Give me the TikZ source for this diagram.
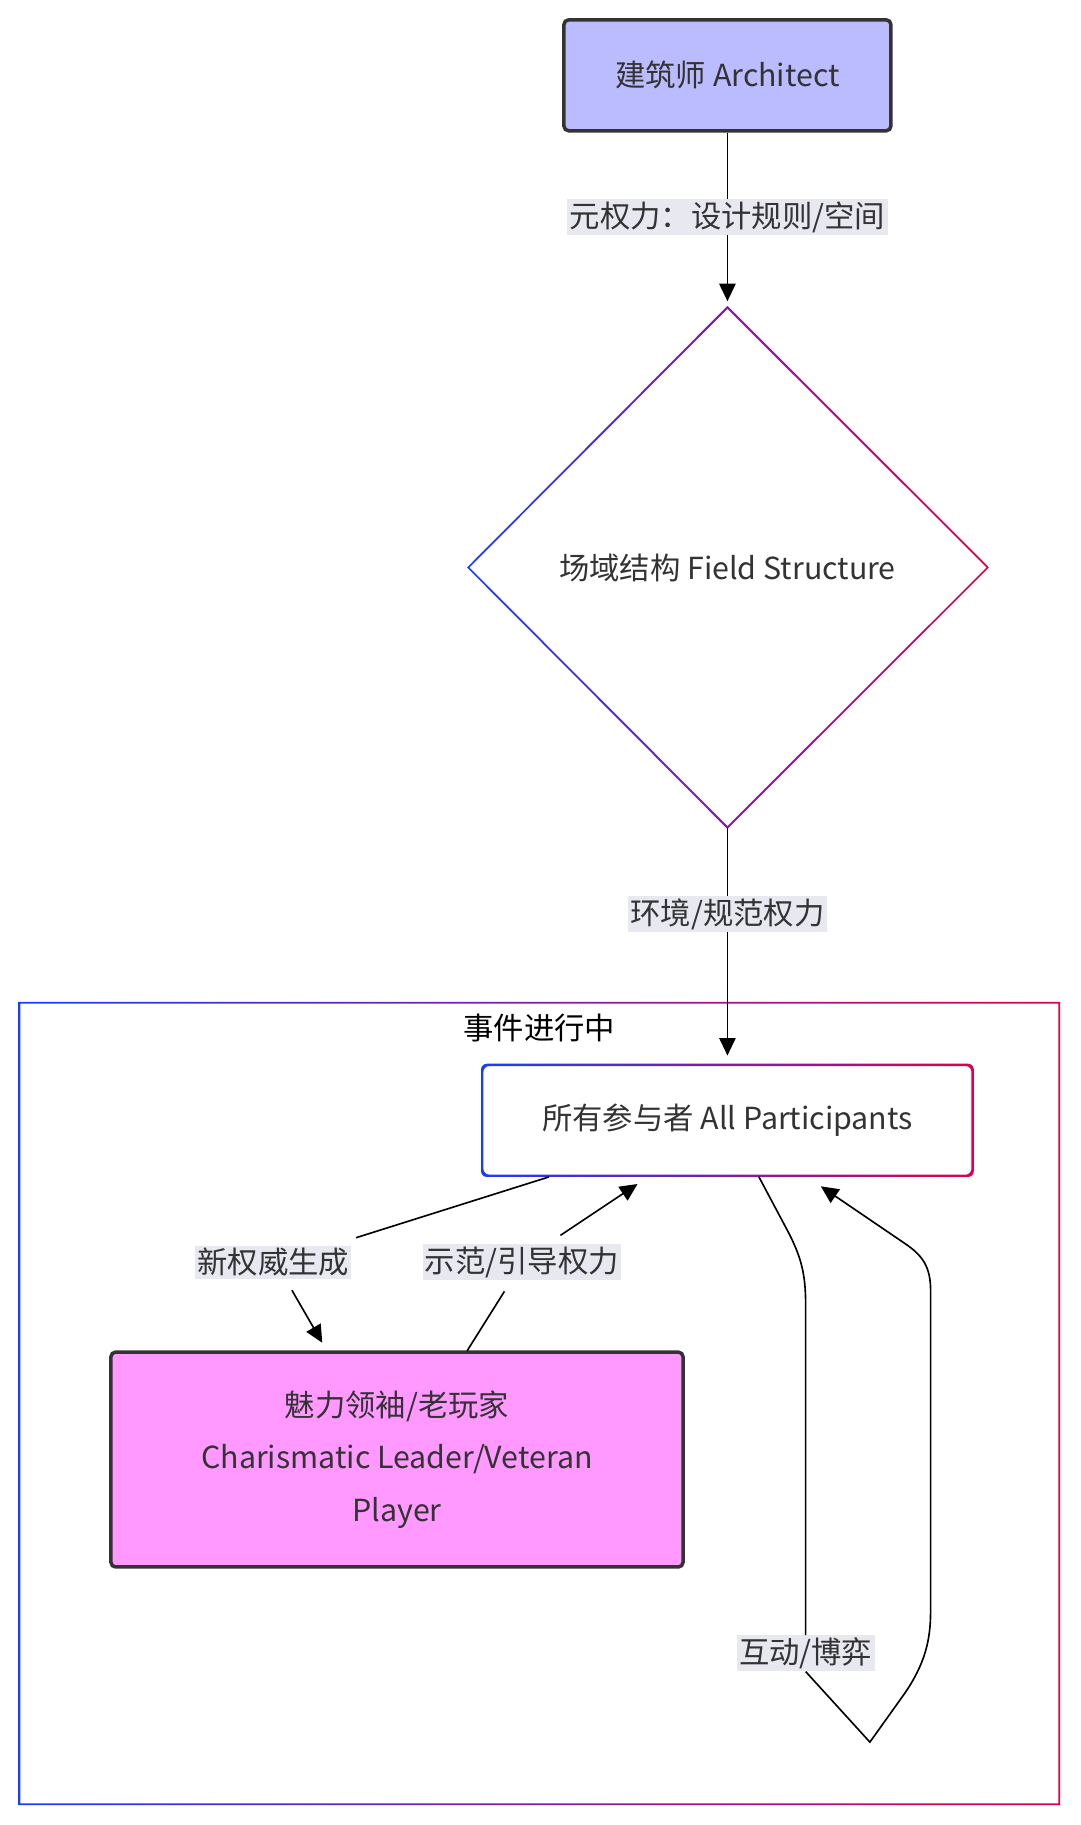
\documentclass[tikz,border=0pt]{standalone}
\usepackage{fontspec}
\setmainfont{Noto Sans CJK SC}
\usetikzlibrary{arrows.meta,shapes.geometric}
\definecolor{gb}{HTML}{1A3CFF}
\definecolor{gm}{HTML}{8A10B0}
\definecolor{gr}{HTML}{E0004A}
\definecolor{lab}{HTML}{E8E8F0}
\definecolor{txt}{HTML}{333333}
\begin{document}
\begin{tikzpicture}[x=1pt,y=1pt,
  every node/.style={font=\fontsize{26}{45}\selectfont, text=txt},
  lbl/.style={fill=lab, inner sep=2pt},
  arr/.style={-{Triangle[length=15pt,width=14pt]}, line width=1.4pt, black},
  ln/.style={line width=1.4pt, black}]
\useasboundingbox (0,0) rectangle (925,-1563);
% subgraph
\shade[left color=gb, middle color=gm, right color=gr, even odd rule]
  (16,-858) rectangle (908,-1546) (17.5,-859.5) rectangle (906.5,-1544.5);
\node[text=black] (sg) at (462,-880) {事件进行中};
% architect
\node[draw=txt, line width=3pt, fill={rgb,255:red,187;green,187;blue,255}, rounded corners=4pt,
  minimum width=280pt, minimum height=95pt] (arch) at (623,-64.5) {建筑师 Architect};
% diamond
\shade[left color=gb, middle color=gm, right color=gr, even odd rule]
  (400,-486) -- (623,-262) -- (847,-486) -- (623,-710) -- cycle
  (402,-486) -- (623,-264.5) -- (845,-486) -- (623,-707.5) -- cycle;
\node (fs) at (623,-486) {场域结构 Field Structure};
\coordinate (fsT) at (623,-262);
\coordinate (fsB) at (623,-709);
% participants
\shade[left color=gb, middle color=gm, right color=gr, even odd rule, rounded corners=5pt]
  (412,-911) rectangle (834,-1008) (414,-913) rectangle (832,-1006);
\node[minimum width=420pt, minimum height=95pt] (all) at (623,-959.5) {所有参与者 All Participants};
% leader
\node[draw=txt, line width=3pt, fill={rgb,255:red,255;green,153;blue,255}, rounded corners=4pt,
  minimum width=490pt, minimum height=184pt, align=center] (lead) at (340,-1250)
  {魅力领袖/老玩家\\Charismatic Leader/Veteran\\Player};
% edges
\draw[arr] (arch.south) -- (623,-258);
\node[lbl] (l1) at (623,-186) {元权力：设计规则/空间};
\draw[arr] (fsB) -- (623,-904);
\node[lbl] (l2) at (623,-783) {环境/规范权力};
\node[lbl] (l3) at (234,-1081) {新权威生成};
\draw[ln] (470,-1008) -- (305,-1060);
\draw[arr] (250,-1105) -- (276,-1150);
\node[lbl] (l4) at (447,-1081) {示范/引导权力};
\draw[ln] (400,-1157) -- (432,-1106);
\draw[arr] (480,-1058) -- (546,-1014);
\node[lbl] (l5) at (690,-1416) {互动/博弈};
\draw[ln] (650,-1008) -- (675,-1055) .. controls (688,-1080) and (690,-1095) .. (690,-1120) -- (l5.north);
\draw[arr] (l5.south) -- (745,-1492) -- (775,-1450) .. controls (792,-1425) and (797,-1405) .. (797,-1380)
  -- (797,-1105) .. controls (797,-1085) and (790,-1075) .. (775,-1065) -- (703,-1016);
\end{tikzpicture}
\end{document}
